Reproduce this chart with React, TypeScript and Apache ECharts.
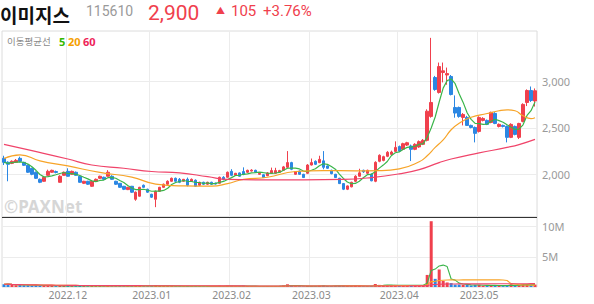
import React, { useEffect, useRef } from 'react';
import * as echarts from 'echarts';

// ---- categories (trading days) ----
const tradingDays: [string, number[]][] = [
  ['2022.11', [9, 10, 11, 14, 15, 16, 17, 18, 21, 22, 23, 24, 25, 28, 29, 30]],
  ['2022.12', [1, 2, 5, 6, 7, 8, 9, 12, 13, 14, 15, 16, 19, 20, 21, 22, 23, 26, 27, 28, 29]],
  ['2023.01', [2, 3, 4, 5, 6, 9, 10, 11, 12, 13, 16, 17, 18, 19, 20, 25, 26, 27, 30, 31]],
  ['2023.02', [1, 2, 3, 6, 7, 8, 9, 10, 13, 14, 15, 16, 17, 20, 21, 22, 23, 24, 27, 28]],
  ['2023.03', [2, 3, 6, 7, 8, 9, 10, 13, 14, 15, 16, 17, 20, 21, 22, 23, 24, 27, 28, 29, 30, 31]],
  ['2023.04', [3, 4, 5, 6, 7, 10, 11, 12, 13, 14, 17, 18, 19, 20, 21, 24, 25, 26, 27, 28]],
  ['2023.05', [2, 3, 4, 8, 9, 10, 11, 12, 15, 16, 17, 18, 19, 22, 23]],
];
const dates: string[] = tradingDays.flatMap(([m, days]) =>
  days.map((d) => `${m}.${String(d).padStart(2, '0')}`)
);

// ---- candles: [open, close, low, high] ----
const candles: [number, number, number, number][] = [
  [2172, 2129, 2100, 2200], [2130, 2108, 1925, 2140], [2118, 2140, 2110, 2150], [2129, 2150, 2125, 2165],
  [2172, 2140, 2130, 2190], [2129, 2097, 2090, 2135], [2097, 2022, 2015, 2105], [2065, 2000, 1990, 2070],
  [2022, 1957, 1950, 2030], [1946, 1914, 1905, 1955],
  [1925, 1968, 1920, 1975], [1989, 2032, 1980, 2050], [2022, 2043, 2015, 2050], [2030, 2020, 2010, 2040],
  [1914, 1979, 1910, 1990], [1989, 2022, 1985, 2030], [2032, 1979, 1975, 2065], [2000, 2032, 1995, 2040],
  [2022, 1989, 1985, 2030], [1979, 1914, 1910, 1985],
  [1903, 1925, 1895, 1930], [1925, 1893, 1885, 1930], [1871, 1925, 1865, 1930], [1925, 1946, 1920, 1955],
  [1957, 1979, 1950, 1985], [1968, 1946, 1940, 1975], [1979, 2022, 1975, 2045], [1979, 1946, 1940, 1990],
  [1925, 1893, 1885, 1930], [1903, 1860, 1855, 1905],
  [1871, 1839, 1830, 1875], [1835, 1860, 1830, 1865], [1871, 1807, 1800, 1875], [1731, 1807, 1715, 1815],
  [1764, 1860, 1760, 1865], [1882, 1860, 1855, 1890], [1839, 1807, 1800, 1845], [1785, 1753, 1745, 1790],
  [1731, 1817, 1646, 1825], [1817, 1860, 1810, 1865],
  [1860, 1893, 1855, 1900], [1893, 1925, 1885, 1935], [1925, 1957, 1920, 1965], [1957, 1925, 1920, 1965],
  [1946, 1914, 1905, 1960], [1925, 1946, 1920, 1950], [1946, 1882, 1870, 1965], [1925, 1946, 1920, 1955],
  [1936, 1871, 1865, 1945], [1882, 1914, 1875, 1920],
  [1914, 1893, 1885, 1920], [1893, 1914, 1885, 1920], [1914, 1893, 1885, 1920], [1905, 1895, 1890, 1910],
  [1903, 1968, 1900, 1975], [1968, 1946, 1935, 1980], [1968, 2022, 1965, 2030], [2032, 1989, 1980, 2055],
  [1989, 2011, 1985, 2015], [2015, 1979, 1975, 2020],
  [2030, 2000, 1990, 2075], [2022, 2043, 2015, 2050], [2035, 2045, 2030, 2055], [2043, 2022, 2015, 2050],
  [2000, 2011, 1995, 2020], [1995, 1965, 1960, 2000], [1985, 2015, 1980, 2025], [2011, 2040, 2005, 2072],
  [2011, 2040, 2005, 2070], [2022, 2040, 2015, 2048],
  [2043, 2080, 2035, 2090], [2075, 2126, 2070, 2250], [2126, 2054, 2045, 2135], [2000, 2030, 1995, 2035],
  [2035, 2000, 1995, 2040], [2000, 1965, 1960, 2005], [2011, 2100, 2005, 2110], [2100, 2126, 2095, 2170],
  [2140, 2108, 2100, 2150], [2126, 2161, 2120, 2200],
  [2145, 2075, 2054, 2250], [2090, 2065, 2060, 2095], [2043, 2007, 2000, 2050], [2000, 1965, 1960, 2005],
  [1957, 1900, 1895, 1962], [1900, 1839, 1830, 1905], [1839, 1875, 1830, 1880], [1865, 1914, 1860, 1920],
  [1925, 1979, 1915, 1990], [1979, 2016, 1975, 2060],
  [2043, 2027, 2015, 2050], [2011, 2043, 2005, 2050], [2000, 1930, 1925, 2010], [1925, 2129, 1915, 2140],
  [2140, 2205, 2130, 2215], [2150, 2190, 2140, 2200], [2194, 2237, 2185, 2250], [2215, 2240, 2205, 2255],
  [2247, 2290, 2240, 2355], [2300, 2250, 2240, 2310],
  [2269, 2330, 2260, 2340], [2315, 2340, 2305, 2350], [2305, 2269, 2143, 2320], [2269, 2323, 2260, 2335],
  [2295, 2352, 2285, 2365], [2323, 2366, 2315, 2380], [2366, 2680, 2355, 2700], [2624, 2774, 2610, 3470],
  [3043, 2914, 2900, 3060], [2882, 3161, 2870, 3204],
  [3097, 3115, 2990, 3204], [3070, 3085, 2965, 3150], [3054, 2860, 2850, 3070], [2720, 2660, 2610, 2850],
  [2720, 2624, 2610, 2730], [2613, 2645, 2527, 2660], [2613, 2527, 2520, 2630], [2527, 2505, 2495, 2535],
  [2505, 2441, 2344, 2515], [2462, 2613, 2450, 2625],
  [2581, 2602, 2570, 2615], [2581, 2538, 2530, 2590], [2559, 2667, 2550, 2675], [2656, 2548, 2540, 2670],
  [2516, 2538, 2505, 2548], [2527, 2516, 2505, 2535], [2516, 2398, 2344, 2525], [2398, 2538, 2390, 2550],
  [2516, 2430, 2420, 2525], [2398, 2548, 2380, 2555],
  [2570, 2753, 2560, 2765], [2774, 2903, 2735, 2915], [2903, 2795, 2780, 2946], [2790, 2900, 2730, 2925],
];

// ---- volume (millions of shares) ----
const volumes: number[] = [
  0.45, 0.5, 0.35, 0.3, 0.35, 0.3,
  0.3, 0.25, 0.3, 0.25, 0.2, 0.25, 0.18, 0.15, 0.2, 0.18,
  0.2, 0.15, 0.15, 0.2, 0.15, 0.15, 0.18, 0.15, 0.15, 0.12,
  0.2, 0.15, 0.15, 0.18, 0.15, 0.12, 0.2, 0.25, 0.2, 0.15,
  0.15, 0.18, 0.3, 0.18, 0.15, 0.15, 0.15, 0.12, 0.12, 0.1,
  0.15, 0.12, 0.12, 0.12, 0.1, 0.1, 0.1, 0.08, 0.2, 0.12,
  0.2, 0.18, 0.12, 0.12, 0.2, 0.15, 0.12, 0.1, 0.1, 0.12,
  0.15, 0.15, 0.15, 0.12, 0.25, 0.45, 0.2, 0.12, 0.12, 0.1,
  0.2, 0.15, 0.12, 0.2, 0.25, 0.15, 0.15, 0.15, 0.2, 0.25,
  0.15, 0.15, 0.25, 0.2, 0.12, 0.12, 0.15, 0.5, 0.35, 0.25,
  0.3, 0.25, 0.35, 0.25, 0.3, 0.25, 0.3, 0.25, 0.3, 0.3,
  2.0, 10.9, 1.35, 2.9, 1.0, 0.75, 0.65, 0.4, 0.4, 0.35,
  0.35, 0.25, 0.35, 0.35, 0.2, 0.2, 0.3, 0.3, 0.2, 0.15,
  0.3, 0.45, 0.25, 0.3, 0.45, 0.45, 0.35, 0.4,
];

// ---- moving averages: [index, value] ----
const ma20Points: [number, number][] = [
  [0, 2170], [4, 2210], [9, 2145], [16, 2090], [24, 2020], [32, 1970], [38, 1895], [45, 1875],
  [52, 1872], [56, 1900], [60, 1945], [66, 1968], [73, 2030], [80, 2040], [88, 2038], [94, 2040],
  [99, 2058], [104, 2135], [106, 2200], [108, 2290], [110, 2370], [112, 2480], [114, 2550],
  [117, 2615], [121, 2655], [124, 2685], [126, 2695], [128, 2685], [130, 2630], [132, 2600], [133, 2610],
];
const ma60Points: [number, number][] = [
  [0, 2323], [7, 2255], [16, 2165], [22, 2100], [30, 2065], [37, 2030], [44, 2015], [51, 1975],
  [56, 1945], [65, 1940], [75, 1940], [85, 1945], [92, 1965], [99, 2005], [104, 2050], [109, 2126],
  [112, 2165], [119, 2230], [126, 2290], [129, 2320], [133, 2376],
];

const priceTicks = [2000, 2500, 3000];

const UP = '#f0404d';
const DOWN = '#2b87e3';
const C5 = '#3ab54a';
const C20 = '#f7a428';
const C60 = '#f0446a';
const FONT = "'Noto Sans', 'Noto Sans CJK KR', sans-serif";
const KFONT = "'Noto Sans CJK KR', 'Noto Sans', sans-serif";
const RFONT = "Roboto, 'Noto Sans', sans-serif";

function movingAvg(arr: number[], n: number): number[] {
  return arr.map((_, i) => {
    const s = Math.max(0, i - n + 1);
    const w = arr.slice(s, i + 1);
    return +(w.reduce((a, b) => a + b, 0) / w.length).toFixed(3);
  });
}

function headerText(text: string, x: number, y: number, fontSize: number, fill: string, extra: any = {}) {
  return {
    type: 'text', x, y, z: 10,
    style: {
      text, fontSize, fill, fontFamily: RFONT, verticalAlign: 'top', lineHeight: fontSize, ...extra,
    },
  };
}

export default function App() {
  const ref = useRef<HTMLDivElement>(null);

  useEffect(() => {
    document.body.style.margin = '0';
    if (!ref.current) return;
    const chart = echarts.init(ref.current, undefined, { renderer: 'svg' });

    const closes = candles.map((c) => c[1]);
    const ma5 = movingAvg(closes, 5);
    const vma5 = movingAvg(volumes, 5);
    const vma20 = movingAvg(volumes, 20);
    const vma60 = movingAvg(volumes, 60);

    const monthStart = new Set<number>();
    dates.forEach((d, i) => {
      if (i > 0 && d.slice(0, 7) !== dates[i - 1].slice(0, 7)) monthStart.add(i);
    });
    const isMonth = (i: number) => monthStart.has(i);

    const volData = volumes.map((v, i) => ({
      value: v,
      itemStyle: { color: candles[i][1] >= candles[i][0] ? UP : DOWN },
    }));

    const lineBase = {
      type: 'line',
      showSymbol: false,
      symbol: 'none',
      silent: true,
    };

    const option: any = {
      animation: false,
      textStyle: { fontFamily: FONT },
      grid: [
        { left: 2, right: 57, top: 31, height: 186, show: true, borderColor: '#dcdcdc', borderWidth: 1 },
        { left: 2, right: 57, top: 217, height: 70, show: true, borderColor: '#dcdcdc', borderWidth: 1 },
      ],
      xAxis: [
        {
          type: 'category', gridIndex: 0, data: dates, boundaryGap: true,
          axisLine: { show: false }, axisTick: { show: false, interval: isMonth },
          axisLabel: { show: false, interval: isMonth },
          splitLine: { show: true, interval: isMonth, lineStyle: { color: '#ececec', width: 1 } },
        },
        {
          type: 'category', gridIndex: 1, data: dates, boundaryGap: true,
          axisLine: { show: false }, axisTick: { show: false, interval: isMonth },
          axisLabel: {
            show: true, interval: isMonth, color: '#8a8a8a', fontSize: 10.5, margin: 3,
            fontFamily: FONT, formatter: (v: string) => v.slice(0, 7),
          },
          splitLine: { show: true, interval: isMonth, lineStyle: { color: '#ececec', width: 1 } },
        },
      ],
      yAxis: [
        {
          type: 'value', gridIndex: 0, position: 'right', min: 1540, max: 3544, scale: true,
          axisLine: { show: false },
          axisTick: { show: false, customValues: priceTicks },
          axisLabel: {
            customValues: priceTicks, color: '#9a9a9a', fontSize: 11, margin: 5, fontFamily: FONT,
            formatter: (v: number) => v.toLocaleString('en-US'),
          },
          splitLine: { show: true, lineStyle: { color: '#ececec', width: 1 } },
        },
        {
          type: 'value', gridIndex: 1, position: 'right', min: 0, max: 11.6, interval: 5,
          axisLine: { show: false }, axisTick: { show: false },
          axisLabel: {
            color: '#9a9a9a', fontSize: 11, margin: 5, fontFamily: FONT,
            formatter: (v: number) => (v === 0 ? '' : `${v}M`),
            showMaxLabel: false,
          },
          splitLine: { show: true, lineStyle: { color: '#ececec', width: 1 } },
        },
      ],
      series: [
        {
          type: 'candlestick', xAxisIndex: 0, yAxisIndex: 0, data: candles, barWidth: 3,
          itemStyle: { color: UP, color0: DOWN, borderColor: UP, borderColor0: DOWN, borderWidth: 1 },
          silent: true,
        },
        { ...lineBase, xAxisIndex: 0, yAxisIndex: 0, data: ma5, lineStyle: { color: C5, width: 1.2 } },
        { ...lineBase, xAxisIndex: 0, yAxisIndex: 0, data: ma20Points, smooth: true, lineStyle: { color: C20, width: 1.2 } },
        { ...lineBase, xAxisIndex: 0, yAxisIndex: 0, data: ma60Points, smooth: true, lineStyle: { color: C60, width: 1.2 } },
        { type: 'bar', xAxisIndex: 1, yAxisIndex: 1, data: volData, barWidth: 3, silent: true },
        { ...lineBase, xAxisIndex: 1, yAxisIndex: 1, data: vma5, lineStyle: { color: C5, width: 1.1 } },
        { ...lineBase, xAxisIndex: 1, yAxisIndex: 1, data: vma20, lineStyle: { color: C20, width: 1.1 } },
        { ...lineBase, xAxisIndex: 1, yAxisIndex: 1, data: vma60, lineStyle: { color: C60, width: 1.1 } },
      ],
      graphic: [
        headerText('이미지스', 0, 5, 19, '#111', { fontWeight: 'bold', fontFamily: KFONT }),
        headerText('115610', 86, 4, 14, '#9a9a9a'),
        headerText('2,900', 148, 2, 21, UP),
        headerText('▲', 216, 6, 9, UP, { fontFamily: FONT }),
        headerText('105', 231, 3, 15, UP),
        headerText('+3.76%', 263, 3, 15, UP),
        {
          type: 'text', x: 7, y: 41, z: 10,
          style: { text: '이동평균선', fontSize: 9.5, fontFamily: KFONT, fill: '#8a8a8a', verticalAlign: 'middle' },
        },
        {
          type: 'text', x: 59, y: 41, z: 10,
          style: { text: '5', fontSize: 11, fontWeight: 'bold', fontFamily: FONT, fill: '#33b800', verticalAlign: 'middle' },
        },
        {
          type: 'text', x: 68, y: 41, z: 10,
          style: { text: '20', fontSize: 11, fontWeight: 'bold', fontFamily: FONT, fill: '#f5a000', verticalAlign: 'middle' },
        },
        {
          type: 'text', x: 83, y: 41, z: 10,
          style: { text: '60', fontSize: 11, fontWeight: 'bold', fontFamily: FONT, fill: '#ee1f5a', verticalAlign: 'middle' },
        },
        {
          type: 'text', x: 4, y: 206, z: 0,
          style: { text: '©PAXNet', fontSize: 17, fontWeight: 'bold', fontFamily: FONT, fill: '#d6d6d6', verticalAlign: 'middle' },
        },
        {
          type: 'line', z: 100,
          shape: { x1: 2, y1: 217.5, x2: 537, y2: 217.5 },
          style: { stroke: '#333', lineWidth: 1 },
        },
      ],
    };

    chart.setOption(option);
    return () => chart.dispose();
  }, []);

  return <div ref={ref} style={{ width: 594, height: 304 }} />;
}
